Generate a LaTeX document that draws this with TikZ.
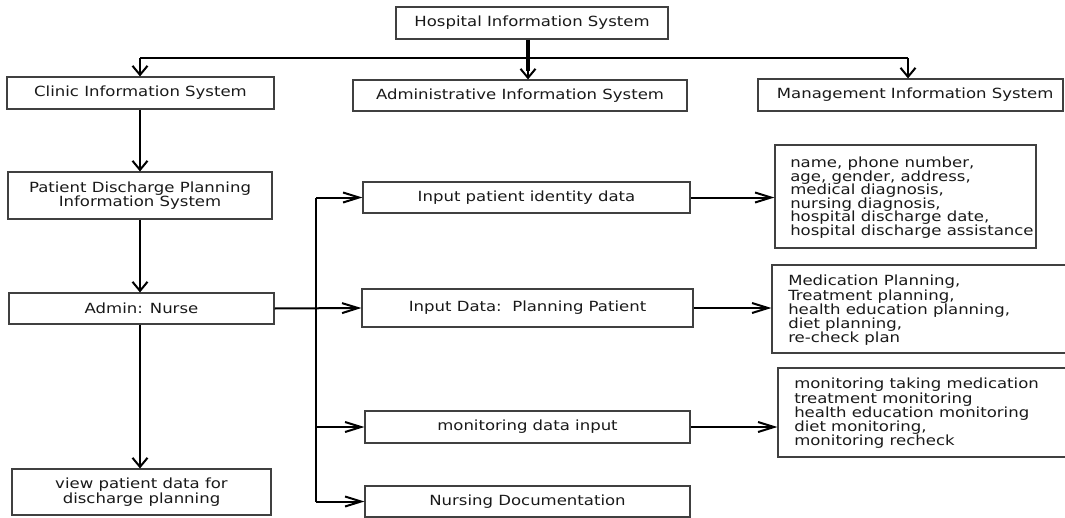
\documentclass[tikz,border=0pt]{standalone}
\usepackage{fontspec}
\setmainfont{DejaVu Sans}[FakeStretch=1.18]
\usetikzlibrary{arrows.meta}
\tikzset{
  box/.style={draw=black!75, line width=0.9pt, inner sep=0pt, text=black!90, align=center,
    font=\fontsize{10.5pt}{11pt}\selectfont},
  rtxt/.style={anchor=north west, inner sep=0pt, text=black!90, align=left},
  conn/.style={line width=1.5pt},
  va/.style={-{Straight Barb[length=6.75pt,width=11.25pt]}},
  ha/.style={-{Straight Barb[length=12pt,width=7.5pt]}},
}
% box from pixel corners (x1,y1) to (x2,y2)
\newcommand\pxbox[6]{\node[box, minimum width={(#4-#2)*0.75pt}, minimum height={(#5-#3)*0.75pt}]
  (#1) at ({(#2+#4)/2},{(#3+#5)/2}) {#6};}
\begin{document}
\lineskiplimit=-10pt\relax
\begin{tikzpicture}[x=0.75pt,y=-0.75pt]
\useasboundingbox (0,0) rectangle (1065,518);
% top row
\pxbox{hosp}{396}{7}{668}{39}{Hospital Information System}
\pxbox{clinic}{7}{77}{274}{109}{Clinic Information System}
\pxbox{adminis}{353}{80}{687}{111}{Administrative Information System}
\pxbox{mgmt}{758}{79}{1063}{111}{\hspace*{7pt}Management Information System}
% left column
\pxbox{pdp}{8}{172}{272}{219}{Patient Discharge Planning\\ Information System}
\pxbox{nurse}{9}{293}{274}{324}{Admin: Nurse}
\pxbox{view}{12}{469}{271}{515}{view patient data for\\discharge planning}
% middle column
\pxbox{ident}{363}{182}{690}{213}{Input patient identity data}
\pxbox{plan}{362}{289}{693}{327}{Input Data:\ \ Planning Patient}
\pxbox{mon}{365}{411}{690}{443}{monitoring data input}
\pxbox{nurs}{365}{486}{690}{517}{Nursing Documentation}
% right column
\pxbox{identR}{775}{145}{1036}{248}{}
\pxbox{planR}{772}{265}{1070}{353}{}
\pxbox{monR}{778}{368}{1070}{457}{}
\node[rtxt, font=\fontsize{10.5pt}{10.1pt}\selectfont] (identT) at (790,157)
  {name, phone number,\\age, gender, address,\\medical diagnosis,\\nursing diagnosis,\\hospital discharge date,\\hospital discharge assistance};
\node[rtxt, font=\fontsize{10.5pt}{10.7pt}\selectfont] (planT) at (788,275)
  {Medication Planning,\\Treatment planning,\\health education planning,\\diet planning,\\re-check plan};
\node[rtxt, font=\fontsize{10.5pt}{10.7pt}\selectfont] (monT) at (794,378)
  {monitoring taking medication\\treatment monitoring\\health education monitoring\\diet monitoring,\\monitoring recheck};
% top connectors
\coordinate (bl) at (140,58);
\coordinate (hub) at (528,58);
\coordinate (br) at (908,58);
\coordinate (thk) at (528,71);
\draw[conn] (bl) -- (br);
\draw[line width=3pt] (hosp.south -| hub) -- (thk);
\draw[conn,va] (hub) -- (hub |- adminis.north);
\draw[conn,va] (bl) -- (bl |- clinic.north);
\draw[conn,va] (br) -- (br |- mgmt.north);
% left column connectors
\coordinate (lc) at (140,0);
\draw[conn,va] (lc |- clinic.south) -- (lc |- pdp.north);
\draw[conn,va] (lc |- pdp.south) -- (lc |- nurse.north);
\draw[conn,va] (lc |- nurse.south) -- (lc |- view.north);
% bus
\coordinate (busT) at (316,197.5);
\coordinate (busB) at (316,501.5);
\draw[conn] (busT) -- (busB);
\draw[conn,ha] (busT) -- (ident.west);
\draw[conn,ha] (busT |- mon.west) -- (mon.west);
\draw[conn,ha] (busB) -- (nurs.west);
\draw[conn,ha] (nurse.east) -- (plan.west);
% right connectors
\draw[conn,ha] (ident.east) -- (ident.east -| identR.west);
\draw[conn,ha] (plan.east) -- (plan.east -| planR.west);
\draw[conn,ha] (mon.east) -- (mon.east -| monR.west);
\end{tikzpicture}
\end{document}
